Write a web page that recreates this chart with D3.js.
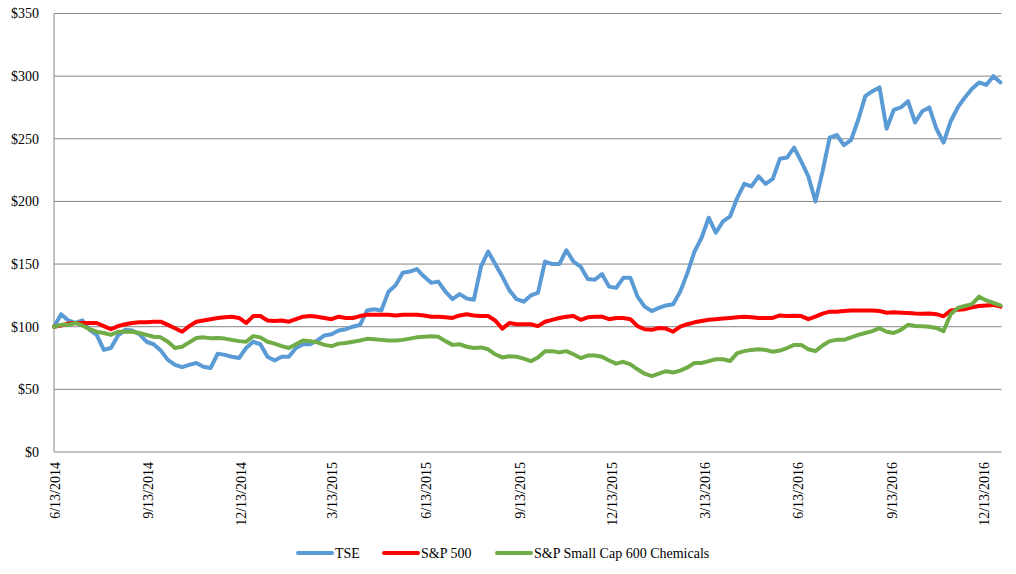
<!DOCTYPE html>
<html>
<head>
<meta charset="utf-8">
<script src="https://cdn.jsdelivr.net/npm/d3@7"></script>
<style>
  html, body { margin: 0; padding: 0; background: #fff; }
  svg { display: block; font-family: "Liberation Serif", "Times New Roman", serif; }
  .grid line { stroke: #868686; stroke-width: 1; }
  .series { fill: none; stroke-width: 4; stroke-linejoin: round; stroke-linecap: round; }
</style>
</head>
<body>
<svg id="chart" width="1016" height="574"></svg>
<script>
(function () {
  // weekly readings starting 6/13/2014
  const START = new Date(2014, 5, 13);
  const END = new Date(2016, 11, 31);
  const TICK_DATES = ['6/13/2014', '9/13/2014', '12/13/2014', '3/13/2015', '6/13/2015',
    '9/13/2015', '12/13/2015', '3/13/2016', '6/13/2016', '9/13/2016', '12/13/2016'];
  const Y_TICKS = [0, 50, 100, 150, 200, 250, 300, 350];
  const SERIES_NAMES = ['TSE', 'S&P 500', 'S&P Small Cap 600 Chemicals'];
  const COLORS = ['#5B9BD5', '#FF0000', '#70AD47'];

  const tse = [100, 110, 105, 103, 105, 97.5, 93.5, 81.5, 83, 93, 97.5, 97, 94, 88, 86, 81,
    73.5, 69.5, 67.7, 69.5, 71, 68, 67, 78.5, 77.5, 76, 75, 83, 88, 86, 76, 73, 76, 76, 83, 86,
    86, 89, 93, 94, 97, 98, 100, 101.5, 113, 114, 113, 128, 133, 143, 144, 146, 140, 135, 136,
    128, 122, 126, 122.5, 121.5, 148, 160, 150, 140, 129, 122, 120, 125, 127, 152, 150, 150,
    161, 152, 148, 138, 137.5, 142, 132, 131, 139, 139, 124, 116, 112.5, 115, 117, 118, 128,
    142.8, 160, 171, 187, 175, 184, 188, 202.7, 214, 212, 220, 214, 218, 234, 235, 243, 232,
    220, 200, 224, 251, 253, 245, 249, 265, 284, 288, 291, 258, 273, 275, 280, 263, 272, 275,
    258, 247, 264, 275, 283, 290, 295, 293, 300, 295];

  const sp500 = [100, 101, 102.5, 103, 103, 103, 103, 100.5, 98, 100.5, 102, 103, 103.5, 103.5,
    104, 104, 101.5, 98.8, 96, 100.5, 104, 105, 106, 107, 107.5, 108, 107, 103, 108.5, 108.5,
    105, 104.5, 105, 104, 106, 108, 108.5, 108, 107, 106, 108, 107, 107, 108.5, 109.5, 109.5,
    109.5, 109.5, 109, 109.5, 109.5, 109.5, 109, 108, 108, 107.5, 107, 109, 110, 109, 108.5,
    108.5, 105, 98.5, 103, 102, 102, 102, 100.5, 104, 105.5, 107, 108, 108.5, 105.5, 107.5, 108,
    108, 106, 107, 107, 106, 100.5, 98, 97.5, 99, 98.5, 96, 100, 102, 103.5, 104.5, 105.5, 106,
    106.5, 107, 107.5, 108, 107.5, 107, 107, 107, 109, 108.5, 108.7, 108.5, 106, 108, 110.5,
    112, 112, 112.5, 112.9, 113, 113, 113, 112.5, 111.2, 111.5, 111.2, 111, 110.5, 110.4,
    110.5, 110, 108.3, 113, 113.5, 114, 115.5, 116.6, 117, 117.4, 116];

  const chem600 = [100, 101.5, 101.5, 103, 101, 98, 96, 95, 93.5, 96, 96, 96, 95, 93.5, 92,
    91.5, 88, 83, 84, 87.5, 91, 91.5, 90.8, 91, 90.5, 89.5, 88.5, 88, 92.5, 91.5, 88, 86.5,
    84.5, 83, 86, 89, 88.5, 87.5, 85.5, 84.5, 86.5, 87, 88, 89, 90.3, 90, 89.5, 89, 89, 89.5,
    90.5, 91.5, 92, 92.3, 92, 88.5, 85.5, 86, 84, 83, 83.5, 82, 78, 75.5, 76.5, 76, 74.5, 72.5,
    75.5, 80.5, 80.5, 79.5, 80.5, 78, 75, 77, 77, 76, 73, 70.5, 72, 70, 66, 62.5, 60.5, 62.5,
    64.5, 63.5, 65, 67.5, 71, 71, 72.5, 74, 74, 72.6, 78.9, 80.5, 81.5, 82, 81.5, 80, 81, 83,
    85.5, 85.5, 82, 80.5, 85, 88.5, 89.5, 89.5, 91.5, 93.5, 95, 96.5, 98.8, 96, 95, 97.5,
    101.5, 100.5, 100.3, 100, 99, 96.5, 110, 115, 116.5, 118, 124, 121, 119, 117];

  const dates = tse.map((_, i) => d3.timeDay.offset(START, 7 * i));
  const parse = d3.timeParse('%m/%d/%Y');
  const series = [tse, sp500, chem600];

  const svg = d3.select('#chart');
  const margin = { left: 54, top: 13.5, right: 14.5, bottom: 122 };
  const W = 1016, H = 574;

  const x = d3.scaleTime().domain([START, END]).range([margin.left, W - margin.right]);
  const y = d3.scaleLinear().domain([0, 350]).range([H - margin.bottom, margin.top]);

  // horizontal grid
  svg.append('g').attr('class', 'grid')
    .selectAll('line').data(Y_TICKS).join('line')
    .attr('x1', margin.left).attr('x2', W - margin.right)
    .attr('y1', d => y(d)).attr('y2', d => y(d));

  // left axis line
  svg.append('line')
    .attr('x1', margin.left).attr('x2', margin.left)
    .attr('y1', y(350)).attr('y2', y(0))
    .attr('stroke', '#868686').attr('stroke-width', 1);

  // y labels
  svg.append('g').selectAll('text').data(Y_TICKS).join('text')
    .attr('x', margin.left - 15)
    .attr('y', d => y(d))
    .attr('dy', '0.35em')
    .attr('text-anchor', 'end')
    .attr('font-size', 14)
    .attr('fill', '#000')
    .text(d => '$' + d);

  // x labels, rotated
  svg.append('g').selectAll('text').data(TICK_DATES).join('text')
    .attr('transform', d => `translate(${x(parse(d)) + 1},${y(0) + 10}) rotate(-90)`)
    .attr('dy', '0.35em')
    .attr('text-anchor', 'end')
    .attr('font-size', 14)
    .attr('fill', '#000')
    .text(d => d);

  const line = d3.line()
    .x((d, i) => x(dates[i]))
    .y(d => y(d));

  svg.append('g').selectAll('path').data(series).join('path')
    .attr('class', 'series')
    .attr('stroke', (d, i) => COLORS[i])
    .attr('d', line);

  // legend
  const legendX = [298, 384, 497];
  const lg = svg.append('g').selectAll('g').data(SERIES_NAMES).join('g')
    .attr('transform', (d, i) => `translate(${legendX[i]},553)`);
  lg.append('line')
    .attr('x1', 0).attr('x2', 34)
    .attr('stroke', (d, i) => COLORS[i])
    .attr('stroke-width', 4)
    .attr('stroke-linecap', 'round');
  lg.append('text')
    .attr('x', 37)
    .attr('dy', '0.35em')
    .attr('font-size', 14)
    .attr('fill', '#000')
    .text(d => d);
})();
</script>
</body>
</html>
